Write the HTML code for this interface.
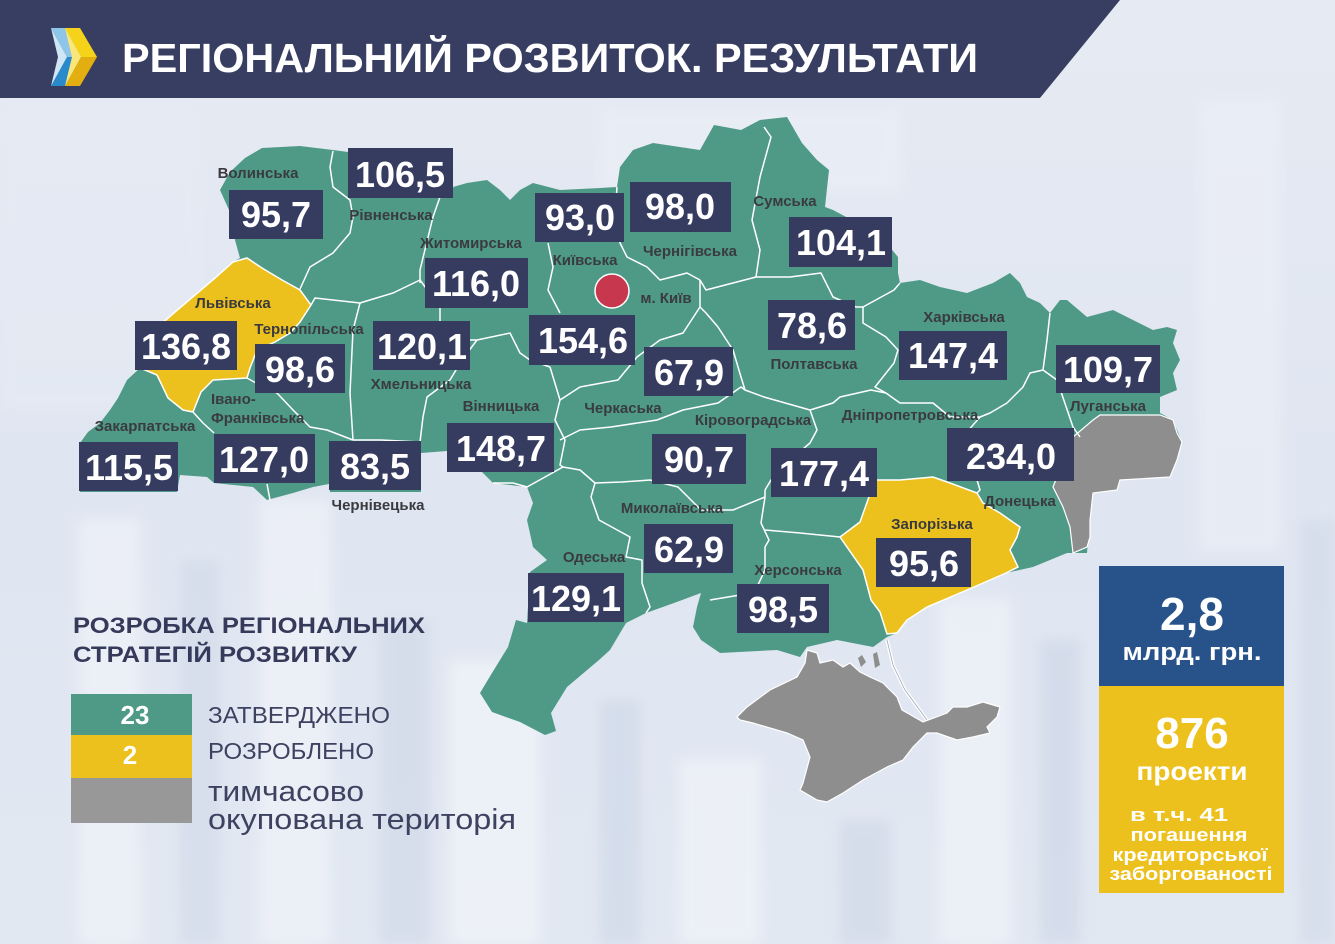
<!DOCTYPE html>
<html><head><meta charset="utf-8"><style>
html,body{margin:0;padding:0;background:#e3e8f2;}
svg{display:block;}
.lb{font-family:"Liberation Sans",sans-serif;font-weight:bold;font-size:15px;fill:#3a3b3f;text-anchor:middle;}
.nb{font-family:"Liberation Sans",sans-serif;font-weight:bold;font-size:36px;fill:#fff;text-anchor:middle;}
</style></head><body>
<svg width="1335" height="944" viewBox="0 0 1335 944" xmlns="http://www.w3.org/2000/svg">
<defs>
<linearGradient id="bg" x1="0" y1="0" x2="0" y2="1">
<stop offset="0" stop-color="#e6eaf3"/><stop offset="0.5" stop-color="#e0e6f1"/><stop offset="1" stop-color="#e2e8f2"/>
</linearGradient>
<filter id="bl" x="-10%" y="-10%" width="120%" height="120%"><feGaussianBlur stdDeviation="6"/></filter>
</defs>
<rect width="1335" height="944" fill="url(#bg)"/>
<!-- faint building background -->
<g filter="url(#bl)" opacity="0.55">
<rect x="80" y="520" width="60" height="424" fill="#f4f6fb"/>
<rect x="180" y="560" width="40" height="384" fill="#cfd8e8"/>
<rect x="260" y="500" width="70" height="444" fill="#f4f6fb"/>
<rect x="380" y="620" width="50" height="324" fill="#cdd6e7"/>
<rect x="450" y="660" width="90" height="284" fill="#f6f8fc"/>
<rect x="600" y="700" width="40" height="244" fill="#cbd5e6"/>
<rect x="680" y="760" width="80" height="184" fill="#f5f7fb"/>
<rect x="840" y="820" width="50" height="124" fill="#ccd5e6"/>
<rect x="940" y="600" width="70" height="344" fill="#f4f6fb"/>
<rect x="1040" y="640" width="40" height="304" fill="#cbd4e6"/>
<rect x="1200" y="100" width="80" height="450" fill="#eef1f8"/>
<rect x="1300" y="520" width="35" height="424" fill="#cfd8e8"/>
<rect x="600" y="110" width="300" height="80" fill="#edf0f7"/>
<rect x="0" y="110" width="200" height="300" fill="#e6ebf4"/>
</g>
<!-- header -->
<polygon points="0,0 1120,0 1040,98 0,98" fill="#383e61"/>
<!-- logo -->
<polygon points="51,28 66,28 82,57 67,57" fill="#8ec6ea"/>
<polygon points="67,57 82,57 66,86 51,86" fill="#2a8bcc"/>
<polygon points="51,28 67,57 51,86 58,57" fill="#cfe6f6"/>
<polygon points="65,28 80,28 97,57 81,57" fill="#f6d31b"/>
<polygon points="81,57 97,57 80,86 65,86" fill="#e2ae10"/>
<polygon points="65,28 81,57 65,86 72,57" fill="#fbe67a"/>
<text x="122" y="72" font-family="Liberation Sans, sans-serif" font-weight="bold" font-size="41" fill="#fff" textLength="856" lengthAdjust="spacingAndGlyphs">РЕГІОНАЛЬНИЙ РОЗВИТОК. РЕЗУЛЬТАТИ</text>

<!-- map outer -->
<path fill="#4e9a87" d="M220,190 L229,210 L235,240 L240,258 L233,262 L215,278 L195,295 L175,312 L160,325 L148,345 L140,368 L127,380 L118,398 L110,410 L100,423 L88,432 L80,443 L79,470 L80,492 L177,492 L180,475 L207,477 L214,483 L253,487 L267,500 L293,493 L313,487 L329,484 L330,492 L421,492 L421,453 L460,450 L480,470 L493,483 L527,487 L533,503 L527,520 L533,547 L547,560 L530,572 L527,623 L516,620 L508,647 L492,673 L480,693 L492,712 L520,722 L545,735 L556,731 L551,713 L567,687 L599,660 L610,650 L626,623 L646,613 L674,603 L701,593 L697,607 L693,627 L701,640 L720,653 L777,650 L800,657 L807,647 L837,640 L873,647 L887,637 L897,633 L907,620 L927,607 L974,587 L1006,573 L1033,567 L1067,553 L1087,553 L1090,520 L1090,493 L1117,490 L1120,480 L1170,477 L1182,442 L1173,420 L1160,413 L1160,397 L1177,390 L1173,373 L1180,360 L1173,343 L1177,330 L1167,327 L1153,330 L1133,320 L1113,310 L1087,317 L1067,300 L1060,300 L1050,313 L1040,303 L1027,297 L1020,283 L1010,273 L993,283 L967,293 L940,287 L920,280 L900,283 L898,273 L898,257 L880,235 L833,210 L825,207 L829,170 L817,160 L802,143 L787,117 L760,120 L741,130 L714,125 L700,150 L653,143 L633,150 L620,167 L617,187 L600,188 L560,190 L533,183 L520,190 L510,200 L500,190 L487,180 L467,183 L453,187 L452,160 L348,152 L333,150 L300,146 L262,148 L245,158 L230,172 Z"/>
<!-- Lviv -->
<path fill="#ecc11d" stroke="#fff" stroke-width="1.5" d="M233,262 L247,258 L262,268 L282,280 L300,290 L311,305 L300,322 L290,333 L275,342 L257,350 L250,368 L247,378 L213,380 L201,392 L193,412 L183,410 L168,398 L157,375 L140,368 L148,345 L160,325 L175,312 L195,295 L215,278 Z"/>
<!-- Zaporizhzhia -->
<path fill="#ecc11d" stroke="#fff" stroke-width="1.5" d="M840,537 L860,522 L875,480 L900,480 L933,477 L950,483 L977,493 L983,503 L1000,513 L1020,527 L1017,537 L1010,550 L1018,567 L1006,573 L974,587 L927,607 L907,620 L897,633 L887,634 L880,612 L871,600 L863,570 Z"/>
<!-- occupied east -->
<path fill="#8e8e8e" stroke="#fff" stroke-width="1.2" d="M1100,415 L1160,415 L1173,420 L1177,433 L1182,442 L1177,460 L1170,477 L1120,480 L1117,490 L1093,493 L1090,520 L1090,537 L1087,547 L1073,553 L1070,527 L1063,507 L1053,487 L1073,437 L1093,420 Z"/>
<!-- Arabat spit -->
<path fill="none" stroke="#ffffff" stroke-width="3.5" d="M887,640 L893,665 L905,690 L927,720"/>
<path fill="none" stroke="#9ea7b8" stroke-width="0.8" d="M887,640 L893,665 L905,690 L927,720"/>
<!-- Crimea -->
<path fill="#8e8e8e" stroke="#fff" stroke-width="1.2" d="M737,717 L747,707 L770,690 L797,677 L805,663 L807,650 L817,653 L820,663 L833,660 L843,667 L850,663 L860,672 L870,677 L883,683 L897,697 L902,710 L923,722 L947,713 L953,707 L967,707 L983,702 L1000,707 L997,717 L987,727 L990,733 L973,737 L957,740 L937,733 L927,733 L913,747 L903,760 L887,767 L863,780 L843,793 L827,802 L817,800 L800,790 L803,783 L810,757 L803,740 L787,733 L753,723 L740,720 Z"/>
<path fill="#8e8e8e" d="M858,658 L862,655 L866,662 L861,667 Z M873,654 L877,652 L880,665 L875,668 Z"/>

<!-- internal borders -->
<g fill="none" stroke="#ffffff" stroke-width="1.5" stroke-linejoin="round">
<path d="M333,151 L330,167 L333,187 L350,200 L353,217 L350,233 L333,253 L310,267 L300,289"/>
<path d="M453,187 L440,197 L433,217 L420,270 L420,283"/>
<path d="M311,305 L315,298 L360,303 L393,293 L420,280"/>
<path d="M360,303 L353,330 L350,393 L353,440"/>
<path d="M247,378 L265,388 L277,393 L293,410 L310,427 L327,430 L353,440"/>
<path d="M193,412 L203,423 L214,433"/>
<path d="M267,484 L270,500"/>
<path d="M420,280 L440,307 L440,340"/>
<path d="M353,440 L380,440 L420,442 L423,417 L427,397 L450,380 L462,360 L477,340"/>
<path d="M440,340 L477,340 L510,333 L520,353 L530,360 L550,367"/>
<path d="M548,243 L553,267 L548,290 L560,313"/>
<path d="M550,367 L557,390 L560,400 L555,420 L565,440 L560,465 L563,467"/>
<path d="M493,483 L513,483 L527,487 L563,467 L580,470 L595,483"/>
<path d="M617,187 L615,215 L620,243 L627,257 L647,267 L660,280 L687,273 L700,280"/>
<path d="M764,127 L771,137 L760,177 L752,220 L760,250 L756,277"/>
<path d="M700,280 L706,290 L756,277 L790,277 L821,273 L833,297 L856,307 L863,307 L894,290 L900,283"/>
<path d="M700,280 L700,307 L706,313 L718,327 L733,350 L741,377 L745,390 L764,397 L810,410 L833,403 L840,397 L871,390 L886,393"/>
<path d="M863,307 L863,323 L886,337 L898,350 L894,363 L875,387 L886,393"/>
<path d="M886,393 L900,403 L933,403 L950,417 L980,417 L990,413 L1007,403 L1023,387 L1030,373 L1043,370"/>
<path d="M1050,313 L1047,340 L1043,370 L1057,380 L1073,427 L1080,437"/>
<path d="M700,307 L683,333 L660,340 L637,357 L618,380 L580,387 L560,400"/>
<path d="M560,440 L580,430 L611,427 L657,420 L683,410 L718,403 L741,387 L745,390"/>
<path d="M810,410 L817,430 L810,443 L790,460 L771,480 L765,490"/>
<path d="M595,483 L622,482 L650,480 L678,487 L701,510 L733,510 L765,497 L765,490"/>
<path d="M595,483 L591,497 L599,520 L630,537 L626,557 L642,560 L642,583 L650,607 L646,613"/>
<path d="M765,497 L761,523 L769,540 L765,547 L765,570 L757,587 L740,595 L710,600"/>
<path d="M765,530 L800,533 L840,537"/>
<path d="M980,417 L960,440 L950,460 L977,480 L980,490 L977,493"/>
</g>
<!-- Kyiv city -->
<circle cx="612" cy="291" r="17" fill="#c7384f" stroke="#fff" stroke-width="1.5"/>

<!-- value boxes -->
<g fill="#363b60">
<rect x="229" y="190" width="94" height="49"/>
<rect x="348" y="148" width="105" height="50"/>
<rect x="535" y="193" width="89" height="49"/>
<rect x="630" y="182" width="101" height="50"/>
<rect x="789" y="217" width="103" height="50"/>
<rect x="425" y="258" width="103" height="50"/>
<rect x="529" y="315" width="106" height="50"/>
<rect x="768" y="300" width="87" height="50"/>
<rect x="899" y="331" width="108" height="49"/>
<rect x="1056" y="345" width="104" height="48"/>
<rect x="135" y="321" width="102" height="49"/>
<rect x="255" y="344" width="90" height="49"/>
<rect x="373" y="321" width="97" height="49"/>
<rect x="644" y="347" width="89" height="49"/>
<rect x="79" y="442" width="99" height="49"/>
<rect x="214" y="434" width="101" height="49"/>
<rect x="329" y="441" width="92" height="49"/>
<rect x="447" y="423" width="107" height="49"/>
<rect x="652" y="434" width="94" height="50"/>
<rect x="771" y="448" width="106" height="49"/>
<rect x="947" y="428" width="127" height="53"/>
<rect x="644" y="524" width="89" height="49"/>
<rect x="528" y="573" width="96" height="49"/>
<rect x="737" y="584" width="92" height="49"/>
<rect x="876" y="538" width="95" height="49"/>
</g>
<g class="nb">
<text class="nb" x="276" y="227">95,7</text>
<text class="nb" x="400" y="187">106,5</text>
<text class="nb" x="580" y="230">93,0</text>
<text class="nb" x="680" y="219">98,0</text>
<text class="nb" x="841" y="255">104,1</text>
<text class="nb" x="476" y="296">116,0</text>
<text class="nb" x="583" y="353">154,6</text>
<text class="nb" x="812" y="338">78,6</text>
<text class="nb" x="953" y="368">147,4</text>
<text class="nb" x="1108" y="382">109,7</text>
<text class="nb" x="186" y="359">136,8</text>
<text class="nb" x="300" y="382">98,6</text>
<text class="nb" x="422" y="359">120,1</text>
<text class="nb" x="689" y="385">67,9</text>
<text class="nb" x="129" y="480">115,5</text>
<text class="nb" x="264" y="472">127,0</text>
<text class="nb" x="375" y="479">83,5</text>
<text class="nb" x="501" y="461">148,7</text>
<text class="nb" x="699" y="472">90,7</text>
<text class="nb" x="824" y="486">177,4</text>
<text class="nb" x="1011" y="469" font-size="38">234,0</text>
<text class="nb" x="689" y="562">62,9</text>
<text class="nb" x="576" y="611">129,1</text>
<text class="nb" x="783" y="622">98,5</text>
<text class="nb" x="924" y="576">95,6</text>
</g>

<!-- region labels -->
<text class="lb" x="258" y="178">Волинська</text>
<text class="lb" x="391" y="220">Рівненська</text>
<text class="lb" x="471" y="248">Житомирська</text>
<text class="lb" x="585" y="265">Київська</text>
<text class="lb" x="690" y="256">Чернігівська</text>
<text class="lb" x="785" y="206">Сумська</text>
<text class="lb" x="666" y="303">м. Київ</text>
<text class="lb" x="233" y="308">Львівська</text>
<text class="lb" x="309" y="334">Тернопільська</text>
<text class="lb" x="421" y="389">Хмельницька</text>
<text class="lb" x="814" y="369">Полтавська</text>
<text class="lb" x="964" y="322">Харківська</text>
<text class="lb" x="1108" y="411">Луганська</text>
<text class="lb" x="501" y="411">Вінницька</text>
<text class="lb" x="623" y="413">Черкаська</text>
<text class="lb" x="753" y="425">Кіровоградська</text>
<text class="lb" x="910" y="420">Дніпропетровська</text>
<text class="lb" x="145" y="431">Закарпатська</text>
<text class="lb" x="211" y="404" style="text-anchor:start">Івано-</text>
<text class="lb" x="211" y="423" style="text-anchor:start">Франківська</text>
<text class="lb" x="378" y="510">Чернівецька</text>
<text class="lb" x="1020" y="506">Донецька</text>
<text class="lb" x="672" y="513">Миколаївська</text>
<text class="lb" x="932" y="529">Запорізька</text>
<text class="lb" x="594" y="562">Одеська</text>
<text class="lb" x="798" y="575">Херсонська</text>

<!-- legend -->
<text x="73" y="633" font-family="Liberation Sans, sans-serif" font-weight="bold" font-size="22" fill="#353a5a" textLength="352" lengthAdjust="spacingAndGlyphs">РОЗРОБКА РЕГІОНАЛЬНИХ</text>
<text x="73" y="662" font-family="Liberation Sans, sans-serif" font-weight="bold" font-size="22" fill="#353a5a" textLength="284" lengthAdjust="spacingAndGlyphs">СТРАТЕГІЙ РОЗВИТКУ</text>
<rect x="71" y="694" width="121" height="41" fill="#4e9a87"/>
<rect x="71" y="735" width="121" height="43" fill="#ecc11d"/>
<rect x="71" y="778" width="121" height="45" fill="#989898"/>
<text x="135" y="724" font-family="Liberation Sans, sans-serif" font-weight="bold" font-size="26" fill="#fff" text-anchor="middle">23</text>
<text x="130" y="764" font-family="Liberation Sans, sans-serif" font-weight="bold" font-size="26" fill="#fff" text-anchor="middle">2</text>
<g font-family="Liberation Sans, sans-serif" fill="#3d4260">
<text x="208" y="723" font-size="23" textLength="182" lengthAdjust="spacingAndGlyphs">ЗАТВЕРДЖЕНО</text>
<text x="208" y="759" font-size="23" textLength="166" lengthAdjust="spacingAndGlyphs">РОЗРОБЛЕНО</text>
<text x="208" y="801" font-size="29" textLength="156" lengthAdjust="spacingAndGlyphs">тимчасово</text>
<text x="208" y="829" font-size="29" textLength="308" lengthAdjust="spacingAndGlyphs">окупована територія</text>
</g>

<!-- right panel -->
<rect x="1099" y="566" width="185" height="120" fill="#27538a"/>
<rect x="1099" y="686" width="185" height="207" fill="#ecc11d"/>
<g font-family="Liberation Sans, sans-serif" font-weight="bold" fill="#fff" text-anchor="middle">
<text x="1192" y="630" font-size="46">2,8</text>
<text x="1192" y="660" font-size="24" textLength="139" lengthAdjust="spacingAndGlyphs">млрд. грн.</text>
<text x="1192" y="748" font-size="44">876</text>
<text x="1192" y="780" font-size="26" textLength="111" lengthAdjust="spacingAndGlyphs">проекти</text>
<text x="1179" y="821" font-size="18" textLength="98" lengthAdjust="spacingAndGlyphs">в т.ч. 41</text>
<text x="1189" y="841" font-size="18" textLength="117" lengthAdjust="spacingAndGlyphs">погашення</text>
<text x="1190" y="861" font-size="18" textLength="155" lengthAdjust="spacingAndGlyphs">кредиторської</text>
<text x="1191" y="880" font-size="18" textLength="163" lengthAdjust="spacingAndGlyphs">заборгованості</text>
</g>
</svg>
</body></html>
